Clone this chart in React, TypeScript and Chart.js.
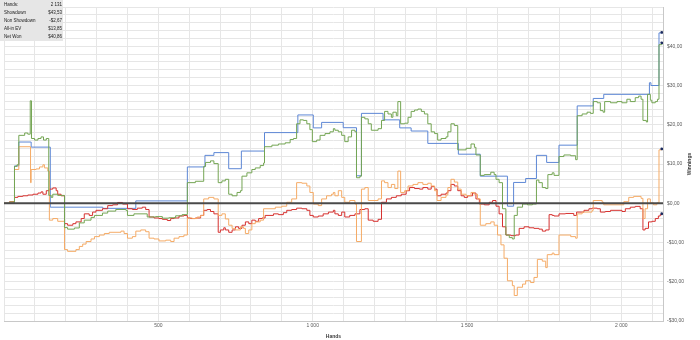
import React, { useEffect, useRef } from 'react';
import { Chart, registerables } from 'chart.js';

Chart.register(...registerables);

const summaryLabels = ['Hands:', 'Showdown', 'Non Showdown', 'All-in EV', 'Net Won'];
const summaryValues = ['2 131', '$43,53', '-$2,67', '$13,85', '$40,86'];

const seriesNames = ['Net Won', 'All-in EV', 'Non Showdown', 'Showdown'];

// [hand, winnings $]
const showdown: [number, number][] = [
  [0, 0], [34, 9.5], [48, 15.6], [88, 14.3], [150, -1.0], [320, -1.3], [427, 0.6], [594, 9.25], [651, 12.2], [680, 12.9],
  [728, 8.8], [769, 13.3], [844, 18.0], [952, 22.5], [1002, 19.2], [1029, 20.6], [1099, 19.25], [1142, 7.0], [1158, 22.9],
  [1228, 21.25], [1282, 19.2], [1319, 18.4], [1373, 15.25], [1472, 12.5], [1543, 6.9], [1631, -0.75], [1651, 5.3],
  [1690, 6.3], [1725, 12.2], [1758, 10.4], [1798, 14.8], [1857, 24.8], [1909, 26.7], [1943, 27.75], [2091, 30.7],
  [2096, 30.0], [2122, 43.4], [2131, 43.53],
];

const netWon: [number, number][] = [
  [0, 0], [18, 0.3], [34, 9.4], [42, 9.8], [48, 17.3], [67, 17.9], [77, 17.6], [85, 26.1], [89, 16.5], [99, 16.1],
  [110, 16.5], [120, 16.9], [128, 16.1], [137, 16.5], [145, 2.0], [153, 1.5], [158, 2.3], [174, 2.0], [196, -6.2],
  [206, -6.6], [228, -6.3], [244, -5.0], [260, -4.3], [282, -3.6], [293, -3.1], [319, -2.5], [336, -2.0], [362, -1.6],
  [395, -1.8], [400, -3.1], [421, -2.7], [464, -3.5], [491, -3.4], [513, -3.8], [534, -3.7], [556, -3.2], [577, -2.9],
  [594, 5.25], [620, 5.6], [647, 9.4], [653, 10.4], [669, 10.8], [680, 10.1], [694, 5.25], [706, 5.7], [717, 6.1],
  [728, 2.3], [739, 1.9], [755, 2.75], [766, 3.2], [771, 6.9], [787, 7.75], [803, 8.6], [814, 9.0], [830, 9.6],
  [841, 10.25], [844, 14.4], [868, 14.8], [889, 15.1], [911, 15.4], [927, 16.25], [938, 16.5], [948, 20.25],
  [959, 21.25], [970, 21.1], [981, 20.25], [991, 18.75], [999, 15.7], [1013, 16.1], [1024, 17.3], [1040, 17.75],
  [1056, 18.2], [1067, 19.0], [1072, 18.6], [1083, 18.2], [1094, 17.3], [1104, 15.7], [1115, 16.9], [1126, 18.6],
  [1137, 18.2], [1142, 6.5], [1153, 6.9], [1158, 21.9], [1169, 21.5], [1180, 20.25], [1190, 18.6], [1212, 19.0],
  [1223, 21.1], [1233, 23.4], [1244, 22.75], [1255, 21.9], [1260, 23.2], [1271, 22.3], [1276, 25.9], [1285, 20.25],
  [1298, 20.4], [1309, 21.9], [1319, 23.4], [1330, 23.75], [1341, 24.0], [1352, 23.4], [1362, 22.75], [1373, 20.25],
  [1384, 18.2], [1395, 17.75], [1405, 16.1], [1416, 16.5], [1432, 16.9], [1438, 18.2], [1448, 20.25], [1459, 19.8],
  [1470, 13.6], [1497, 14.0], [1513, 15.1], [1524, 14.25], [1529, 12.3], [1543, 7.1], [1556, 7.3], [1577, 7.9],
  [1588, 7.3], [1594, 6.1], [1604, 5.25], [1615, -1.4], [1626, -8.1], [1637, -8.75], [1647, -9.1], [1653, -3.1],
  [1663, -1.0], [1680, -0.2], [1696, -0.4], [1712, -0.2], [1725, 5.9], [1733, 5.25], [1744, 4.0], [1755, 3.75],
  [1762, 7.3], [1776, 7.75], [1782, 7.1], [1798, 11.9], [1814, 12.3], [1836, 12.1], [1852, 11.1], [1857, 22.3],
  [1873, 22.75], [1889, 23.2], [1900, 22.9], [1909, 25.9], [1922, 25.6], [1932, 23.6], [1941, 23.2], [1946, 25.9],
  [1965, 25.6], [1986, 25.9], [2002, 25.6], [2018, 26.5], [2029, 25.9], [2045, 26.9], [2056, 27.3], [2064, 26.5],
  [2070, 21.1], [2081, 20.7], [2085, 27.75], [2094, 26.25], [2099, 25.6], [2110, 25.9], [2117, 26.5], [2122, 40.4],
  [2131, 40.86],
];

const nonShowdown: [number, number][] = [
  [0, 0], [18, 0.4], [34, 1.5], [45, 1.75], [61, 1.9], [77, 2.1], [94, 2.3], [110, 2.6], [120, 2.9], [126, 2.3],
  [137, 3.2], [147, 3.6], [158, 3.9], [169, 3.2], [174, 2.3], [185, 1.9], [196, -5.2], [206, -5.6], [223, -5.2],
  [233, -4.75], [250, -3.9], [260, -2.7], [276, -3.1], [287, -2.25], [298, -1.8], [319, -1.4], [336, -0.6], [352, -0.4],
  [368, 0.2], [384, -0.2], [400, -1.4], [416, -1.6], [432, -1.25], [448, -1.0], [459, -1.6], [470, -3.5], [486, -3.75],
  [502, -3.9], [513, -4.1], [529, -4.4], [540, -3.9], [551, -3.75], [567, -3.25], [583, -3.1], [594, -3.75], [604, -3.9],
  [620, -3.75], [637, -3.1], [647, -1.8], [658, -1.6], [669, -2.1], [680, -2.7], [694, -7.4], [701, -6.8], [712, -6.25],
  [717, -6.8], [728, -7.4], [739, -6.8], [750, -6.0], [760, -6.4], [771, -5.6], [782, -4.75], [793, -5.2], [803, -4.3],
  [814, -4.6], [825, -3.9], [836, -3.75], [846, -3.1], [873, -2.7], [889, -2.9], [905, -2.4], [916, -1.8], [932, -1.6],
  [948, -1.25], [965, -1.4], [981, -1.8], [991, -3.1], [1002, -3.5], [1018, -3.25], [1034, -2.7], [1051, -2.25],
  [1067, -1.8], [1072, -2.7], [1083, -3.1], [1094, -2.25], [1104, -3.5], [1120, -3.1], [1137, -2.7], [1153, -1.6],
  [1169, -1.4], [1180, -4.3], [1196, -4.6], [1212, -4.1], [1223, 0.25], [1239, 1.1], [1255, 1.5], [1271, 1.9],
  [1287, 2.3], [1303, 3.2], [1314, 4.0], [1330, 3.75], [1346, 3.6], [1357, 4.0], [1373, 3.6], [1384, 4.25], [1395, 3.6],
  [1403, 1.9], [1416, 2.3], [1432, 2.6], [1438, 3.2], [1448, 4.8], [1459, 4.4], [1470, 3.2], [1481, 1.9], [1491, 1.5],
  [1502, 1.9], [1518, 2.6], [1529, 1.1], [1540, -0.2], [1556, -0.4], [1572, 0.25], [1583, 0.7], [1594, -0.75],
  [1604, -2.7], [1615, -6.0], [1626, -8.1], [1642, -8.25], [1658, -8.1], [1669, -6.4], [1685, -6.0], [1701, -6.25],
  [1717, -6.4], [1733, -6.6], [1744, -7.1], [1755, -6.8], [1766, -2.9], [1776, -3.1], [1782, -3.25], [1798, -2.7],
  [1819, -2.6], [1846, -3.1], [1855, -2.25], [1879, -1.8], [1895, -1.4], [1905, -1.25], [1922, -1.4], [1932, -2.25],
  [1948, -2.1], [1965, -1.8], [2002, -2.1], [2013, -1.4], [2029, -1.0], [2045, -0.8], [2061, -1.4], [2070, -6.8],
  [2077, -6.4], [2088, -4.75], [2099, -4.6], [2110, -3.9], [2120, -3.25], [2126, -2.9], [2131, -2.67],
];

const allInEV: [number, number][] = [
  [0, 0], [18, 0.3], [34, 8.6], [48, 14.4], [86, 5.25], [88, 8.6], [104, 8.75], [115, 9.25], [126, 9.8], [131, 9.0],
  [142, 8.2], [147, -4.3], [158, -3.9], [174, -4.6], [196, -11.8], [206, -12.25], [233, -11.8], [244, -11.0],
  [255, -10.4], [266, -9.75], [282, -9.1], [293, -8.5], [309, -8.1], [325, -7.7], [341, -7.4], [379, -7.1], [389, -7.7],
  [400, -8.9], [416, -8.5], [427, -7.1], [443, -6.8], [459, -7.25], [470, -8.9], [486, -9.1], [502, -9.6], [524, -9.4],
  [540, -9.75], [551, -8.9], [567, -8.5], [583, -8.1], [594, -3.75], [610, -3.9], [626, -3.5], [637, -3.1], [647, 1.1],
  [663, 1.5], [680, 1.1], [694, -3.1], [706, -2.7], [717, -4.0], [728, -5.6], [739, -6.4], [750, -6.8], [766, -6.0],
  [776, -6.4], [782, -7.7], [793, -6.8], [803, -5.2], [814, -4.75], [830, -4.3], [841, -1.4], [879, -1.0], [900, -0.75],
  [916, 0.25], [932, 1.1], [948, 5.25], [965, 5.1], [981, 4.4], [991, 2.75], [1002, -0.2], [1018, -0.6], [1029, 1.1],
  [1045, 1.9], [1061, 2.3], [1067, 2.75], [1072, 1.9], [1083, 3.2], [1094, 1.5], [1104, 0.25], [1120, 0.7],
  [1137, -0.2], [1142, -9.75], [1158, 3.6], [1169, 4.0], [1180, 0.7], [1212, 1.1], [1223, 5.7], [1233, 5.25],
  [1244, 4.0], [1255, 4.8], [1266, 3.75], [1276, 8.2], [1285, 2.75], [1298, 3.2], [1309, 4.4], [1325, 4.8], [1341, 5.25],
  [1357, 4.8], [1373, 5.1], [1384, 4.4], [1395, 3.2], [1403, 0.7], [1416, 1.5], [1432, 2.1], [1438, 4.0], [1448, 6.1],
  [1459, 5.4], [1470, 3.6], [1481, 2.3], [1497, 1.9], [1513, 2.75], [1524, 2.3], [1534, 1.1], [1543, -5.6],
  [1561, -5.2], [1577, -4.75], [1588, -5.6], [1599, -8.1], [1610, -10.6], [1620, -14.0], [1631, -19.75], [1647, -21.0],
  [1653, -23.5], [1663, -21.4], [1680, -20.6], [1690, -19.75], [1706, -20.2], [1717, -18.9], [1728, -14.3],
  [1744, -14.75], [1755, -16.4], [1760, -13.1], [1776, -12.7], [1782, -13.1], [1798, -8.1], [1836, -8.5], [1852, -8.9],
  [1857, -2.7], [1873, -2.25], [1905, -1.8], [1909, 0.7], [1938, 0.25], [1943, -0.4], [2008, 0.4], [2024, 1.5],
  [2040, 1.75], [2064, 1.25], [2070, -3.9], [2077, -1.4], [2085, 1.1], [2094, 0.1], [2104, -0.4], [2115, 0.1],
  [2122, 13.6], [2131, 13.85],
];

const seriesData = [netWon, allInEV, nonShowdown, showdown];
const seriesColors = ['#74a553', '#f5ab66', '#d6312f', '#5d87d5'];

const X_MAX = 2135;
const Y_MIN = -30;
const Y_MAX = 50;
const FONT = "'Liberation Sans', Arial, sans-serif";

function fmtHands(v: number): string {
  if (v >= 1000) return `${Math.floor(v / 1000)} ${String(v % 1000).padStart(3, '0')}`;
  return String(v);
}
function fmtMoney(v: number): string {
  return `${v < 0 ? '-' : ''}$${Math.abs(v)},00`;
}

const decorPlugin = {
  id: 'decor',
  beforeDraw(chart: any) {
    const ctx = chart.ctx;
    ctx.save();
    ctx.fillStyle = '#e6e6e6';
    ctx.fillRect(0, 0, 63, 41);
    ctx.restore();
  },
  afterDatasetsDraw(chart: any) {
    const { ctx, chartArea, scales } = chart;
    const y0 = scales.y.getPixelForValue(0);
    ctx.save();
    ctx.strokeStyle = '#4a4a4a';
    ctx.lineWidth = 2;
    ctx.beginPath();
    ctx.moveTo(chartArea.left, y0);
    ctx.lineTo(chartArea.right, y0);
    ctx.stroke();
    ctx.restore();
  },
  afterDraw(chart: any) {
    const { ctx, chartArea } = chart;
    ctx.save();
    ctx.fillStyle = '#1a1a1a';
    ctx.font = `4.5px ${FONT}`;
    ctx.textBaseline = 'middle';
    summaryLabels.forEach((lab, i) => {
      const yy = 5 + i * 8;
      ctx.textAlign = 'left';
      ctx.fillText(lab, 4, yy);
      ctx.textAlign = 'right';
      ctx.fillText(summaryValues[i], 62, yy);
    });
    ctx.font = `bold 5px ${FONT}`;
    ctx.fillStyle = '#404040';
    ctx.translate(690, (chartArea.top + chartArea.bottom) / 2);
    ctx.rotate(-Math.PI / 2);
    ctx.textAlign = 'center';
    ctx.fillText('Winnings', 0, 0);
    ctx.restore();
  },
};

export default function App() {
  const ref = useRef<HTMLCanvasElement | null>(null);
  useEffect(() => {
    if (!ref.current) return;
    const chart = new Chart(ref.current, {
      type: 'line',
      data: {
        datasets: seriesData.map((pts, i) => ({
          label: seriesNames[i],
          data: pts.map(([x, y]) => ({ x, y })),
          borderColor: seriesColors[i],
          backgroundColor: seriesColors[i],
          borderWidth: 1,
          stepped: true,
          fill: false,
          pointRadius: (c: any) => (c.dataIndex === pts.length - 1 ? 1.4 : 0),
          pointBackgroundColor: '#1c2b5e',
          pointBorderColor: '#1c2b5e',
          pointBorderWidth: 0,
        })),
      },
      options: {
        animation: false,
        responsive: false,
        devicePixelRatio: 1,
        layout: { padding: { top: 1, left: 1, right: 7, bottom: 0 } },
        plugins: { legend: { display: false }, tooltip: { enabled: false } },
        scales: {
          x: {
            type: 'linear',
            min: 0,
            max: X_MAX,
            afterFit: (s: any) => { s.height = 19; },
            grid: { color: '#e6e6e6', lineWidth: 1, drawTicks: false },
            border: { display: true, color: '#c8c8c8' },
            ticks: {
              stepSize: 100,
              includeBounds: false,
              autoSkip: false,
              maxRotation: 0,
              maxTicksLimit: 100,
              padding: 2,
              color: '#595959',
              font: { family: FONT, size: 5 },
              callback: (v: any) => (v > 0 && v % 500 === 0 ? fmtHands(v) : ''),
            },
            title: { display: true, text: 'Hands', padding: 0, color: '#404040', font: { family: FONT, size: 5, weight: 'bold' } },
          },
          y: {
            position: 'right',
            min: Y_MIN,
            max: Y_MAX,
            afterFit: (s: any) => { s.width = 30; },
            grid: { color: '#e6e6e6', lineWidth: 1, drawTicks: false },
            border: { display: true, color: '#c8c8c8' },
            ticks: {
              stepSize: 2,
              autoSkip: false,
              maxTicksLimit: 100,
              padding: 4,
              color: '#595959',
              font: { family: FONT, size: 5 },
              callback: (v: any) => (v % 10 === 0 && v !== Y_MAX ? fmtMoney(v) : ''),
            },
          },
        },
      },
      plugins: [decorPlugin],
    } as any);
    return () => chart.destroy();
  }, []);
  return (
    <div style={{ position: 'fixed', left: 0, top: 0, width: 700, height: 340, background: '#fff' }}>
      <canvas ref={ref} width={700} height={340} style={{ display: 'block', width: 700, height: 340 }} />
    </div>
  );
}
